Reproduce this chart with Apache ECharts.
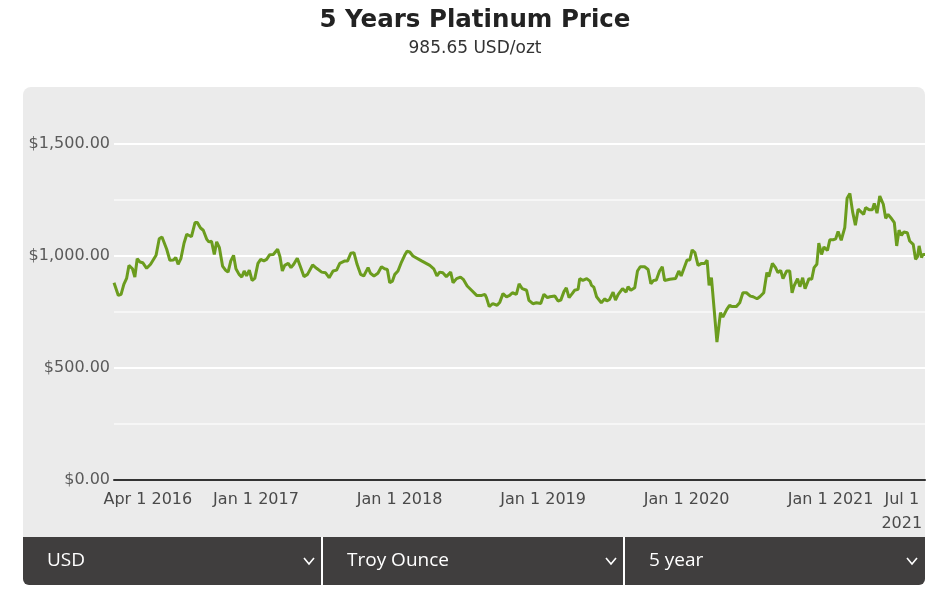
<!DOCTYPE html>
<html>
<head>
<meta charset="utf-8">
<script src="https://cdn.jsdelivr.net/npm/echarts@6/dist/echarts.min.js"></script>
<style>
html,body{margin:0;padding:0;background:#fff;}
#c{width:936px;height:592px;}
</style>
</head>
<body>
<div id="c"></div>
<script>
const dates = [
'2016-01-06','2016-01-17','2016-01-24','2016-01-31','2016-02-07','2016-02-13','2016-02-22','2016-02-28','2016-03-05','2016-03-12',
'2016-03-19','2016-03-29','2016-04-08','2016-04-22','2016-04-30','2016-05-07','2016-05-19','2016-05-27','2016-06-05','2016-06-11',
'2016-06-17','2016-06-24','2016-07-02','2016-07-09','2016-07-21','2016-07-30','2016-08-05','2016-08-13','2016-08-20','2016-08-29',
'2016-09-03','2016-09-10','2016-09-17','2016-09-23','2016-09-30','2016-10-08','2016-10-16','2016-10-22','2016-10-29','2016-11-05',
'2016-11-11','2016-11-19','2016-11-26','2016-12-02','2016-12-08','2016-12-15','2016-12-22','2016-12-29','2017-01-06','2017-01-13',
'2017-01-21','2017-01-28','2017-02-05','2017-02-14','2017-02-18','2017-02-25','2017-03-03','2017-03-09','2017-03-15','2017-03-24',
'2017-03-31','2017-04-07','2017-04-16','2017-04-24','2017-05-03','2017-05-12','2017-05-25','2017-06-04','2017-06-17','2017-06-27',
'2017-07-06','2017-07-16','2017-07-25','2017-08-02','2017-08-15','2017-08-22','2017-08-30','2017-09-07','2017-09-15','2017-09-24',
'2017-10-02','2017-10-13','2017-10-19','2017-10-28','2017-11-07','2017-11-16','2017-11-24','2017-12-01','2017-12-07','2017-12-14',
'2017-12-20','2017-12-28','2018-01-06','2018-01-14','2018-01-20','2018-01-27','2018-02-04','2018-02-26','2018-03-19','2018-03-29',
'2018-04-06','2018-04-13','2018-04-21','2018-04-30','2018-05-04','2018-05-11','2018-05-17','2018-05-26','2018-06-05','2018-06-12',
'2018-06-22','2018-07-03','2018-07-16','2018-07-29','2018-08-06','2018-08-10','2018-08-17','2018-08-26','2018-09-06','2018-09-13',
'2018-09-21','2018-09-30','2018-10-08','2018-10-15','2018-10-25','2018-11-01','2018-11-09','2018-11-20','2018-11-26','2018-12-06',
'2018-12-15','2018-12-19','2018-12-26','2019-01-03','2019-01-12','2019-01-18','2019-01-31','2019-02-08','2019-02-15','2019-02-23',
'2019-03-01','2019-03-08','2019-03-16','2019-03-22','2019-03-31','2019-04-04','2019-04-12','2019-04-22','2019-04-30','2019-05-04',
'2019-05-10','2019-05-17','2019-05-29','2019-06-07','2019-06-12','2019-06-19','2019-06-28','2019-07-04','2019-07-11','2019-07-22',
'2019-07-31','2019-08-05','2019-08-12','2019-08-22','2019-08-29','2019-09-05','2019-09-16','2019-09-25','2019-10-02','2019-10-09',
'2019-10-16','2019-10-24','2019-10-31','2019-11-06','2019-11-19','2019-12-04','2019-12-12','2019-12-18','2020-01-02','2020-01-09',
'2020-01-15','2020-01-22','2020-01-30','2020-02-08','2020-02-16','2020-02-22','2020-02-27','2020-03-04','2020-03-08','2020-03-18',
'2020-03-27','2020-04-02','2020-04-12','2020-04-19','2020-04-26','2020-05-06','2020-05-15','2020-05-23','2020-06-01','2020-06-11',
'2020-06-18','2020-06-28','2020-07-05','2020-07-15','2020-07-23','2020-07-28','2020-08-06','2020-08-14','2020-08-20','2020-08-27',
'2020-09-02','2020-09-11','2020-09-19','2020-09-25','2020-09-30','2020-10-09','2020-10-15','2020-10-22','2020-10-28','2020-11-01',
'2020-11-07','2020-11-14','2020-11-20','2020-11-27','2020-12-02','2020-12-09','2020-12-15','2020-12-24','2020-12-30','2021-01-07',
'2021-01-14','2021-01-20','2021-01-28','2021-02-06','2021-02-12','2021-02-19','2021-02-26','2021-03-05','2021-03-12','2021-03-26',
'2021-03-31','2021-04-09','2021-04-17','2021-04-22','2021-04-29','2021-05-06','2021-05-15','2021-05-21','2021-05-27','2021-06-03',
'2021-06-12','2021-06-18','2021-06-24','2021-06-30','2021-07-06','2021-07-15','2021-07-21','2021-07-30','2021-08-05','2021-08-10',
'2021-08-14','2021-08-20','2021-08-24','2021-08-29'
];
const prices = [
881,824,829,873,900,958,943,906,988,973,
970,945,963,1003,1077,1085,1030,981,982,993,
963,988,1057,1097,1086,1149,1149,1125,1115,1074,
1063,1066,1007,1063,1037,955,936,928,978,1003,
943,918,906,933,911,937,891,900,967,985,
978,985,1006,1007,1003,1030,997,933,958,967,
948,963,990,952,908,918,960,945,928,925,
903,933,937,967,978,978,1012,1015,963,918,
911,948,923,911,923,952,943,940,881,888,
918,933,973,1003,1021,1018,1000,978,958,943,
911,928,925,908,906,928,881,899,906,896,
866,847,824,824,829,814,774,787,780,794,
832,818,824,836,829,876,854,847,802,787,
791,794,788,829,814,818,821,799,803,841,
858,814,832,847,851,899,891,899,888,869,
861,818,791,809,799,806,839,803,829,854,
839,863,847,858,933,952,952,940,876,891,
893,933,952,891,896,900,933,911,982,982,
1027,1015,958,967,967,981,869,903,900,616,
747,727,762,780,774,774,791,836,836,821,
818,809,818,836,926,908,967,948,926,936,
899,933,933,836,866,899,863,903,854,854,
899,896,948,963,1057,1007,1040,1025,1072,1072,
1077,1109,1070,1127,1258,1279,1197,1137,1209,1186,
1216,1206,1206,1235,1191,1268,1231,1168,1186,1171,
1149,1045,1115,1092,1107,1104,1067,1052,985,997,
1045,993,1007,1007
];
const xTickDates = ['2016-04-01','2017-01-01','2018-01-01','2019-01-01','2020-01-01','2021-01-01','2021-07-01'];
const xTickLabels = ['Apr 1 2016','Jan 1 2017','Jan 1 2018','Jan 1 2019','Jan 1 2020','Jan 1 2021','Jul 1\n2021'];
const yTicks = [0, 500, 1000, 1500];
const titleText = '5 Years Platinum Price';
const subText = '985.65 USD/ozt';
const selectors = ['USD', 'Troy Ounce', '5 year'];

const ts = s => { const p = s.split('-').map(Number); return Date.UTC(p[0], p[1]-1, p[2]); };
const tickTs = xTickDates.map(ts);
const seriesData = dates.map((d, i) => [ts(d), prices[i]]);
const fmtMoney = v => '$' + v.toLocaleString('en-US', {minimumFractionDigits: 2, maximumFractionDigits: 2});

const chart = echarts.init(document.getElementById('c'), null, {renderer: 'canvas'});
const FONT = 'DejaVu Sans';
const BAR_FONT = 'Open Sans';
const graphic = [
  {type:'rect', z:-10, shape:{x:23, y:87, width:902, height:452, r:[8,8,0,0]}, style:{fill:'#ebebeb'}},
  {type:'rect', z:-10, shape:{x:23, y:537, width:902, height:48, r:[0,0,6,6]}, style:{fill:'#403e3e'}},
  {type:'rect', z:-9, shape:{x:321, y:537, width:2, height:48}, style:{fill:'#ffffff'}},
  {type:'rect', z:-9, shape:{x:623, y:537, width:2, height:48}, style:{fill:'#ffffff'}}
];
const selX = [47, 347, 649];
const chevX = [309, 611, 912];
selectors.forEach((s, i) => {
  graphic.push({type:'text', z:-8, x:selX[i], y:561, style:{text:s, fill:'#ffffff', font:'19px "' + BAR_FONT + '"', textVerticalAlign:'middle', textAlign:'left'}});
  graphic.push({type:'polyline', z:-8, shape:{points:[[chevX[i]-5, 558],[chevX[i], 564],[chevX[i]+5, 558]]}, style:{stroke:'#ffffff', lineWidth:1.6, fill:null}});
});

chart.setOption({
  animation: false,
  textStyle: {fontFamily: FONT},
  title: {
    text: titleText, subtext: subText, left: 470, textAlign: 'center', top: 3, itemGap: 7,
    textStyle: {fontSize: 24.5, fontWeight: 'bold', color: '#222', fontFamily: FONT},
    subtextStyle: {fontSize: 17, color: '#333', fontFamily: FONT}
  },
  graphic: graphic,
  grid: {left: 114, right: 11, top: 144, bottom: 112, containLabel: false},
  xAxis: {
    type: 'value',
    min: ts(dates[0]), max: ts(dates[dates.length-1]),
    axisLine: {show: true, lineStyle: {color: '#333', width: 2}},
    axisTick: {show: false},
    splitLine: {show: false},
    axisLabel: {
      customValues: tickTs,
      color: '#4a4a4a', fontSize: 16, margin: 8, lineHeight: 24, hideOverlap: false,
      formatter: v => { const i = tickTs.indexOf(v); return i >= 0 ? xTickLabels[i] : ''; }
    }
  },
  yAxis: {
    type: 'value', min: 0, max: 1500, interval: 250,
    axisLine: {show: false}, axisTick: {show: false},
    splitLine: {show: true, lineStyle: {color: ['#ffffff', '#f6f6f6'], width: 2}},
    axisLabel: {
      color: '#5a5a5a', fontSize: 16, margin: 4,
      formatter: v => yTicks.indexOf(v) >= 0 ? fmtMoney(v) : ''
    }
  },
  series: [{
    type: 'line', data: seriesData, showSymbol: false, symbol: 'none',
    lineStyle: {color: '#6b9c1e', width: 3}, z: 3
  }]
});
</script>
</body>
</html>
